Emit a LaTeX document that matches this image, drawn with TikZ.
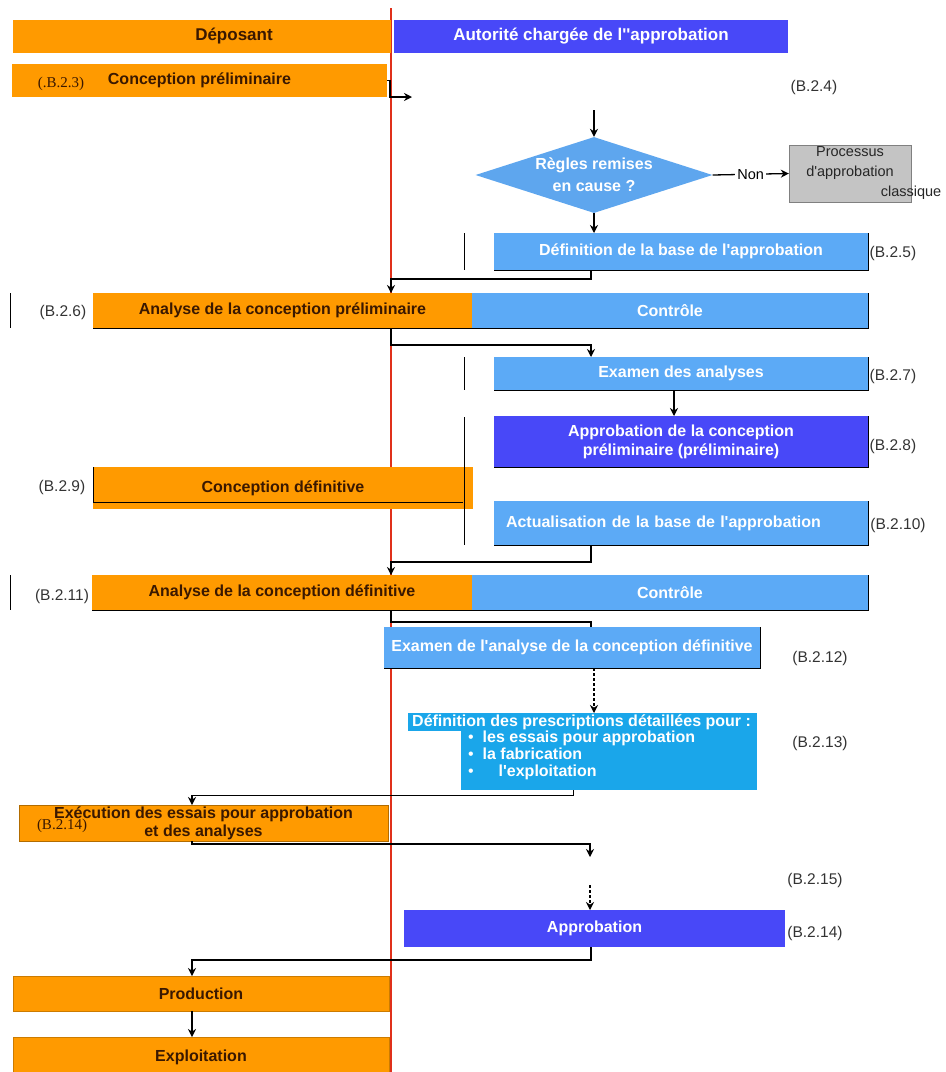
\documentclass[tikz,border=0pt]{standalone}
\usepackage{fontspec}
\setmainfont{Liberation Sans}[Ligatures=TeXOff]
\newfontfamily\serifref{Liberation Serif}[Ligatures=TeXOff]
\usetikzlibrary{shapes.geometric,arrows.meta}
\definecolor{orng}{HTML}{FF9A00}
\definecolor{brn}{HTML}{3A1800}
\definecolor{dblue}{HTML}{4848F8}
\definecolor{lblue}{HTML}{5CAAF6}
\definecolor{cblue}{HTML}{1AA6EA}
\definecolor{dmnd}{HTML}{5EA6EE}
\definecolor{gry}{HTML}{C4C4C4}
\definecolor{axisred}{HTML}{E0301A}
\tikzset{
	box/.style={rectangle,inner sep=0pt,outer sep=0pt,align=center,font=\fontsize{16}{19}\selectfont\bfseries},
	dep/.style={box,fill=orng,text=brn},
	aut/.style={box,fill=lblue,text=white},
	autd/.style={box,fill=dblue,text=white},
	head/.style={font=\fontsize{17}{20}\selectfont\bfseries},
	ref/.style={inner sep=0pt,text=black!80,font=\fontsize{15.5}{17}\selectfont},
	flow/.style={draw,line width=1.3pt,-{Stealth[length=8pt,width=8pt]}},
	tick/.style={draw,line width=0.8pt}
}
\begin{document}
\begin{tikzpicture}[x=1pt,y=-1pt]
	\useasboundingbox (0,0) rectangle (946,1072);
	\coordinate (axis) at (391,0);
	\coordinate (lcol) at (192,0);
	\coordinate (mcol) at (591,0);
	\draw[axisred,line width=1.3pt] (391,8) -- (391,1072);
	\node (hdep) [dep,head,minimum width=378,minimum height=33] at (202,36.5) {\hspace*{64pt}Déposant};
	\node (haut) [autd,head,minimum width=394,minimum height=33] at (591,36.5) {Autorité chargée de l''approbation};
	\node (cprel) [dep,minimum width=375,minimum height=33] at (199.5,80.5) {Conception préliminaire};
	\node (rb23) [ref,text=brn,font=\fontsize{15}{16}\serifref] at (61,84) {(.B.2.3)};
	\coordinate (c1) at (412,97);
	\coordinate (c2) at (594,110);
	\node (rb24) [ref] at (814,87) {(B.2.4)};
	\node (dia) [diamond,aspect=3.1,inner sep=0pt,minimum width=237,minimum height=76,fill=dmnd,text=white,align=center,font=\fontsize{16}{22}\selectfont\bfseries] at (594,175) {Règles remises\\en cause ?};
	\node (proc) [rectangle,inner sep=0pt,minimum width=122,minimum height=57,fill=gry,draw=gray,align=center,text=black!85,font=\fontsize{14.5}{20}\selectfont] at (850,173.5) {Processus\\d'approbation\\\makebox[0pt]{\hspace{122pt}classique}};
	\node (defbase) [aut,minimum width=374,minimum height=37] at (681,251.5) {Définition de la base de l'approbation};
	\node (rb25) [ref] at (893,253) {(B.2.5)};
	\node (anprel) [dep,minimum width=379,minimum height=35] at (282.5,310.5) {Analyse de la conception préliminaire};
	\node (ctrl1) [aut,minimum width=396,minimum height=35] at (670,310.5) {Contrôle};
	\node (rb26) [ref] at (63,312) {(B.2.6)};
	\node (exam) [aut,minimum width=374,minimum height=33] at (681,373.5) {Examen des analyses};
	\node (rb27) [ref] at (893,376) {(B.2.7)};
	\node (apprel) [autd,minimum width=374,minimum height=51] at (681,441.5) {Approbation de la conception\\préliminaire (préliminaire)};
	\node (rb28) [ref] at (893,446) {(B.2.8)};
	\node (condef) [dep,minimum width=380,minimum height=42] at (283,488) {Conception définitive};
	\node (rb29) [ref] at (62,487) {(B.2.9)};
	\node (actual) [aut,align=left,text width=350pt,inner xsep=12pt,minimum height=44] at (681,523) {Actualisation de la base de l'approbation};
	\node (rb210) [ref] at (898,525) {(B.2.10)};
	\node (andef) [dep,minimum width=380,minimum height=35] at (282,592.5) {Analyse de la conception définitive};
	\node (ctrl2) [aut,minimum width=396,minimum height=35] at (670,592.5) {Contrôle};
	\node (rb211) [ref] at (62,596) {(B.2.11)};
	\node (exdef) [aut,minimum width=376,minimum height=41] at (572,647.5) {Examen de l'analyse de la conception définitive};
	\node (rb212) [ref] at (820,658) {(B.2.12)};
	\node (prescr) [rectangle,inner sep=0pt,anchor=north west,minimum width=296,minimum height=77,fill=cblue] at (461,713) {};
	\fill[cblue] (408,731) rectangle (prescr.north east);
	\node (prtitle) [anchor=west,inner sep=0pt,text=white,font=\fontsize{16}{17}\selectfont\bfseries] at (412,722) {Définition des prescriptions détaillées pour :};
	\node (prlist) [anchor=north west,inner sep=0pt,align=left,text=white,font=\fontsize{16}{17}\selectfont\bfseries] at (468,731) {{\mdseries\textbullet}\ \ les essais pour approbation\\{\mdseries\textbullet}\ \ la fabrication\\{\mdseries\textbullet}\ \ \quad l'exploitation};
	\node (rb213) [ref] at (820,743) {(B.2.13)};
	\node (exec) [dep,draw=orng!70!black,minimum width=369,minimum height=36,font=\fontsize{16}{18}\selectfont\bfseries] at (203.5,823) {Exécution des essais pour approbation\\et des analyses};
	\node (rb214a) [ref,text=brn,font=\fontsize{15}{16}\serifref] at (62,826) {(B.2.14)};
	\coordinate (c3) at (590,857);
	\coordinate (c4) at (590,885);
	\node (rb215) [ref] at (815,880) {(B.2.15)};
	\node (appr) [autd,minimum width=381,minimum height=37] at (594.5,928.5) {Approbation};
	\node (rb214b) [ref] at (815,933) {(B.2.14)};
	\node (prod) [dep,draw=orng!80!black,minimum width=376,minimum height=35] at (201,993.5) {Production};
	\node (expl) [dep,draw=orng!80!black,minimum width=376,minimum height=40] at (201,1057) {Exploitation};
	\foreach \n in {defbase,ctrl1,exam,apprel,actual,ctrl2,exdef}
		\draw[tick] (\n.north east) -- (\n.south east) -- (\n.south west);
	\foreach \n in {anprel,andef}
		\draw[tick] (\n.south west) -- (\n.south east);
	\foreach \ya/\yb in {233/270,357/390,417/545}
		\draw[tick] (464,\ya) -- (464,\yb);
	\foreach \ya/\yb in {293/328,575/610}
		\draw[tick] (10,\ya) -- (10,\yb);
	\draw[tick] (condef.north west) |- (463,502);
	\draw[flow] (cprel.east) -- ++(3,0) |- (c1);
	\draw[flow] (c2) -- (dia.north);
	\draw[flow] (dia.east) -- node[fill=white,inner sep=2pt,font=\fontsize{14.5}{16}\selectfont] (non) {Non} (proc.west);
	\draw[flow] (dia.south) -- (defbase.north -| dia.south);
	\draw[flow] (defbase.south -| mcol) -- ++(0,9) -| (anprel.north -| axis);
	\draw[flow] (anprel.south -| axis) -- ++(0,17) -| (exam.north -| mcol);
	\draw[flow] ([xshift=-7pt]exam.south) -- ([xshift=-7pt]apprel.north);
	\draw[flow] (actual.south -| mcol) -- ++(0,17) -| (andef.north -| axis);
	\draw[line width=1.3pt] (andef.south -| axis) -- ++(0,12) -| (exdef.north -| mcol);
	\draw[flow,densely dashed] (exdef.south -| dia.south) -- (prescr.north -| dia.south);
	\draw[flow] ([xshift=-36pt]prescr.south) -- ++(0,5) -| (exec.north -| lcol);
	\draw[flow] (exec.south -| lcol) -- ++(0,3) -| (c3);
	\draw[flow,densely dashed] (c4) -- (appr.north -| c4);
	\draw[flow] (appr.south -| mcol) -- ++(0,13) -| (prod.north -| lcol);
	\draw[flow] (prod.south -| lcol) -- (expl.north -| lcol);
\end{tikzpicture}
\end{document}
